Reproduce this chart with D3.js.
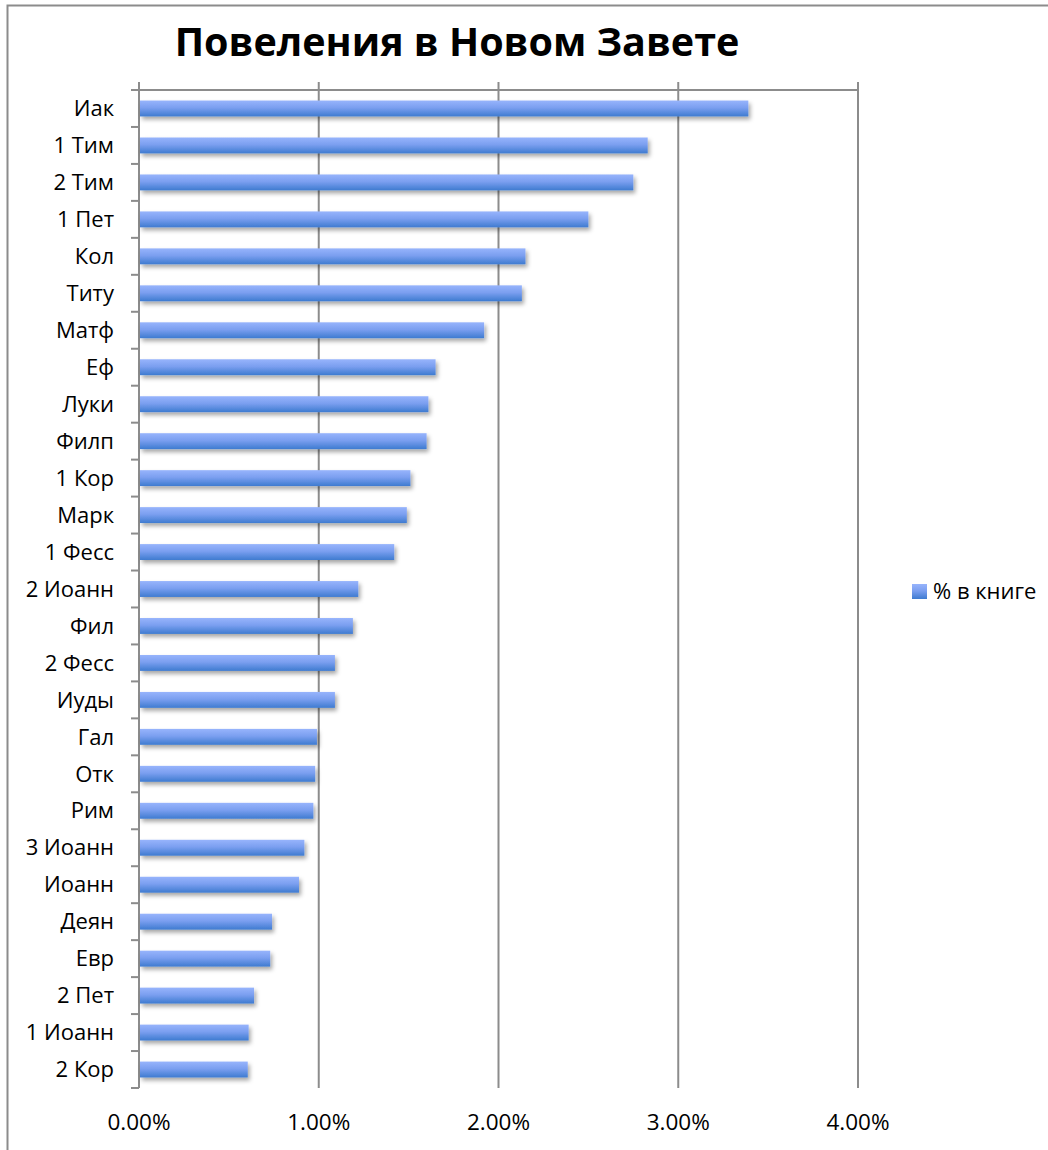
<!DOCTYPE html>
<html>
<head>
<meta charset="utf-8">
<script src="https://cdn.jsdelivr.net/npm/d3@7"></script>
<style>
  body { margin: 0; background: #fff; }
  svg { font-family: "Open Sans", "DejaVu Sans", sans-serif; }
</style>
</head>
<body>
<div class="chart"></div>
<script>
const books = ['Иак','1 Тим','2 Тим','1 Пет','Кол','Титу','Матф','Еф','Луки','Филп','1 Кор','Марк','1 Фесс',
               '2 Иоанн','Фил','2 Фесс','Иуды','Гал','Отк','Рим','3 Иоанн','Иоанн','Деян','Евр','2 Пет','1 Иоанн','2 Кор'];
const shares = [3.39,2.83,2.75,2.50,2.15,2.13,1.92,1.65,1.61,1.60,1.51,1.49,1.42,
                1.22,1.19,1.09,1.09,0.99,0.98,0.97,0.92,0.89,0.74,0.73,0.64,0.61,0.605];
const ticks = [0,1,2,3,4];
const seriesName = '% в книге';
const title = 'Повеления в Новом Завете';

const W = 1048, H = 1150;
const plot = {left: 139, right: 858, top: 90, bottom: 1088};

const svg = d3.select('.chart').append('svg')
    .attr('width', W).attr('height', H);

const defs = svg.append('defs');
const grad = defs.append('linearGradient').attr('id', 'barGrad')
    .attr('x1', 0).attr('y1', 0).attr('x2', 0).attr('y2', 1);
grad.append('stop').attr('offset', '0%').attr('stop-color', '#97b4fc');
grad.append('stop').attr('offset', '45%').attr('stop-color', '#7b9ff0');
grad.append('stop').attr('offset', '100%').attr('stop-color', '#3e7bd0');
const shadow = defs.append('filter').attr('id', 'shadow')
    .attr('x', '-5%').attr('y', '-50%').attr('width', '115%').attr('height', '220%');
shadow.append('feDropShadow').attr('dx', 2).attr('dy', 3).attr('stdDeviation', 2)
    .attr('flood-color', '#000').attr('flood-opacity', 0.35);

// outer frame (only left and top visible)
svg.append('path').attr('d', `M7.5,${H} V5.5 H${W}`)
    .attr('fill', 'none').attr('stroke', '#8c8c8c').attr('stroke-width', 2);

const xScale = d3.scaleLinear().domain([0, 4]).range([plot.left, plot.right]);
const yScale = d3.scaleBand().domain(books).range([plot.top, plot.bottom]).paddingInner(0.57).paddingOuter(0.285);
const band = d3.scaleBand().domain(books).range([plot.top, plot.bottom]);

// vertical gridlines
svg.append('g').selectAll('line').data(ticks).enter().append('line')
    .attr('x1', d => xScale(d)).attr('x2', d => xScale(d))
    .attr('y1', plot.top - 8).attr('y2', plot.bottom)
    .attr('stroke', '#8c8c8c').attr('stroke-width', 2);

// top axis line
svg.append('line').attr('x1', plot.left).attr('x2', plot.right)
    .attr('y1', plot.top).attr('y2', plot.top)
    .attr('stroke', '#8c8c8c').attr('stroke-width', 2);

// category ticks
const catTicks = books.map(b => band(b)).concat([plot.bottom]);
svg.append('g').selectAll('line').data(catTicks).enter().append('line')
    .attr('x1', plot.left - 8).attr('x2', plot.left)
    .attr('y1', d => d).attr('y2', d => d)
    .attr('stroke', '#8c8c8c').attr('stroke-width', 2);

// bars
svg.append('g').selectAll('rect').data(books).enter().append('rect')
    .attr('x', xScale(0) + 1)
    .attr('y', d => yScale(d))
    .attr('height', yScale.bandwidth())
    .attr('width', (d, i) => xScale(shares[i]) - xScale(0) - 1)
    .attr('fill', 'url(#barGrad)')
    .attr('filter', 'url(#shadow)');

// category labels
svg.append('g').selectAll('text').data(books).enter().append('text')
    .attr('x', 114)
    .attr('y', d => band(d) + band.bandwidth() / 2)
    .attr('dy', '0.35em')
    .attr('text-anchor', 'end')
    .attr('font-size', 22)
    .attr('fill', '#000')
    .text(d => d);

// value labels
svg.append('g').selectAll('text').data(ticks).enter().append('text')
    .attr('x', d => xScale(d))
    .attr('y', 1122)
    .attr('dy', '0.35em')
    .attr('text-anchor', 'middle')
    .attr('font-size', 22.5)
    .attr('fill', '#000')
    .text(d => d3.format('.2f')(d) + '%');

// title
svg.append('text')
    .attr('x', 457).attr('y', 42)
    .attr('dy', '0.35em')
    .attr('text-anchor', 'middle')
    .attr('font-size', 39.5)
    .attr('font-weight', 'bold')
    .attr('fill', '#000')
    .text(title);

// legend
svg.append('rect').attr('x', 912).attr('y', 584).attr('width', 15).attr('height', 15)
    .attr('fill', 'url(#barGrad)');
svg.append('text').attr('x', 933).attr('y', 591)
    .attr('dy', '0.35em').attr('font-size', 22).attr('fill', '#000')
    .text(seriesName);
</script>
</body>
</html>
